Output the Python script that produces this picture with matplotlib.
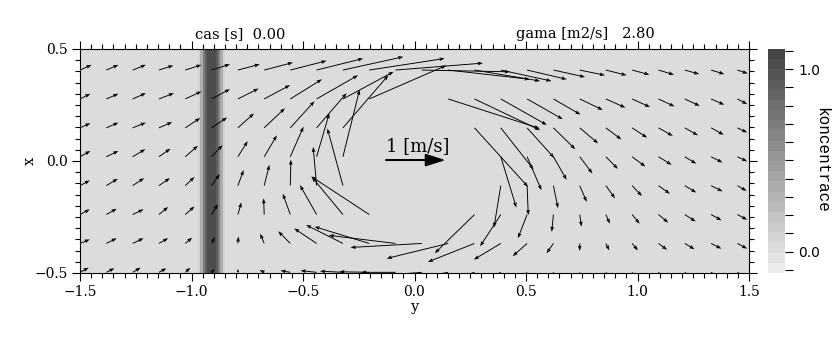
import numpy as np
import matplotlib
matplotlib.use('Agg')
import matplotlib.pyplot as plt
from matplotlib.colors import LinearSegmentedColormap
from matplotlib.ticker import MultipleLocator

nan = np.nan

# vector grid: "y" runs across, "x" runs up
y_grid = [-1.500, -1.382, -1.264, -1.146, -1.028, -0.910, -0.792, -0.674, -0.557,
          -0.439, -0.321, -0.203, -0.085, 0.033, 0.151, 0.269, 0.387, 0.505,
          0.623, 0.741, 0.858, 0.976, 1.094, 1.212, 1.330, 1.448]
x_grid = [0.406, 0.277, 0.148, 0.019, -0.110, -0.239, -0.368, -0.497]   # top row first

# velocity along y [m/s], one row per x_grid entry (nan = not drawn)
vel_y = [
    [.20, .21, .23, .25, .28, .32, .38, .50, .63, .81, 1.05, 1.31, 1.52, 1.53, 1.42, 1.14, .88, .69, .55, .44, .36, .30, .27, .25, .23, .18],
    [.18, .21, .23, .26, .28, .32, .36, .45, .55, .72, .88, 1.34, nan, nan, 1.59, 1.14, .80, .62, .47, .40, .34, .31, .28, .26, .23, .17],
    [.18, .21, .23, .23, .26, .27, .28, .36, .42, .52, .79, nan, nan, nan, nan, .93, .57, .47, .38, .32, .27, .26, .25, .23, .22, .17],
    [.18, .21, .22, .20, .22, .19, .17, .22, .23, .22, .29, nan, nan, nan, nan, nan, .27, .25, .23, .22, .21, .23, .23, .20, .20, .17],
    [.17, .20, .20, .19, .16, .14, .10, .09, .01, -.06, -.27, nan, nan, nan, nan, nan, -.12, .02, .08, .12, .16, .17, .20, .20, .20, .16],
    [.17, .18, .19, .16, .16, .11, .06, -.01, -.13, -.29, -.54, -1.01, nan, nan, nan, -.69, -.36, -.16, -.03, .03, .07, .13, .17, .19, .18, .17],
    [.17, .18, .19, .16, .12, .06, .01, -.07, -.21, -.39, -.64, -.95, -1.16, -1.24, -1.07, -.81, -.47, -.25, -.12, .00, .06, .10, .15, .17, .18, .17],
    [.15, .14, .14, .13, .09, .05, .00, -.08, -.17, -.28, -.40, -.52, -.60, -.62, -.55, -.40, -.25, -.12, -.05, .00, .05, .08, .11, .13, .14, .15],
]
# velocity along x [m/s]
vel_x = [
    [.09, .09, .09, .08, .09, .10, .10, .13, .16, .20, .23, .20, .12, -.03, -.16, -.19, -.19, -.16, -.12, -.09, -.09, -.08, -.08, -.07, -.07, -.06],
    [.09, .09, .10, .10, .13, .17, .18, .24, .34, .41, .47, .58, nan, nan, -.51, -.54, -.45, -.35, -.27, -.19, -.15, -.14, -.13, -.12, -.10, -.09],
    [.08, .09, .09, .10, .17, .18, .25, .34, .46, .60, .91, nan, nan, nan, nan, -1.02, -.72, -.52, -.37, -.27, -.20, -.17, -.14, -.13, -.12, -.08],
    [.10, .10, .13, .14, .19, .20, .27, .37, .52, .75, 1.16, nan, nan, nan, nan, nan, -.88, -.58, -.40, -.29, -.21, -.17, -.14, -.12, -.10, -.08],
    [.09, .12, .13, .13, .15, .20, .27, .36, .45, .67, .99, nan, nan, nan, nan, nan, -.73, -.51, -.39, -.28, -.22, -.18, -.14, -.12, -.10, -.09],
    [.09, .10, .09, .13, .14, .18, .21, .28, .36, .51, .65, .66, nan, nan, nan, -.67, -.55, -.41, -.30, -.21, -.16, -.16, -.14, -.12, -.10, -.09],
    [.07, .09, .09, .09, .10, .11, .12, .17, .21, .26, .32, .29, .14, -.07, -.26, -.32, -.28, -.22, -.17, -.13, -.12, -.12, -.11, -.10, -.09, -.09],
    [.08, .07, .08, .07, .08, .06, .06, .04, .03, .03, .02, .01, .00, -.05, -.10, -.12, -.12, -.12, -.12, -.11, -.10, -.10, -.09, -.09, -.08, -.08],
]

# concentration strip across y (zero elsewhere)
band_edges = [-0.97, -0.96, -0.95, -0.94, -0.93, -0.92, -0.91, -0.90, -0.89, -0.88, -0.87, -0.86, -0.85]
band_conc = [0.10, 0.35, 0.70, 0.92, 1.0, 1.0, 1.0, 1.0, 0.92, 0.70, 0.35, 0.10]

time_s = 0.00
gama = 2.80
ref_speed = 1.0
arrow_per_ms = 0.258   # data units drawn for 1 m/s

fig = plt.figure(figsize=(8.4, 3.5), dpi=100)
ax = fig.add_axes([80/840, 77/350, 669/840, 224/350])
cax = fig.add_axes([768/840, 77/350, 17/840, 224/350])

cmap = LinearSegmentedColormap.from_list('konc', ['#ececec', '#454545'], N=22)
edges = [-1.5] + band_edges + [1.5]
conc = np.array([[0.0] + band_conc + [0.0]])
mesh = ax.pcolormesh(edges, [-0.5, 0.5], conc, cmap=cmap, vmin=-0.117, vmax=1.11, shading='flat')

Y, X = np.meshgrid(y_grid, x_grid)
U = np.ma.masked_invalid(np.array(vel_y))
V = np.ma.masked_invalid(np.array(vel_x))
ax.quiver(Y, X, U, V, angles='xy', scale_units='xy', scale=1/arrow_per_ms,
          width=0.0014, headwidth=4, headlength=5.5, headaxislength=5,
          color='k', zorder=3)

# reference arrow
ax.arrow(-0.129, 0.004, ref_speed*arrow_per_ms, 0, width=0.002, head_width=0.05,
         head_length=0.08, length_includes_head=True, color='k', zorder=4)
ax.text(0.016, 0.045, '1 [m/s]', ha='center', va='baseline', fontsize=13,
        family='DejaVu Serif')

ax.set_xlim(-1.5, 1.5)
ax.set_ylim(-0.5, 0.5)
ax.xaxis.set_major_locator(MultipleLocator(0.5))
ax.xaxis.set_minor_locator(MultipleLocator(0.05))
ax.yaxis.set_major_locator(MultipleLocator(0.5))
ax.yaxis.set_minor_locator(MultipleLocator(0.05))
ax.xaxis.set_major_formatter(lambda v, p: f'{v:.1f}'.replace('-', '\u2212'))
ax.yaxis.set_major_formatter(lambda v, p: f'{v:.1f}'.replace('-', '\u2212'))
ax.tick_params(which='both', direction='out', top=True, right=True, width=0.8)
ax.tick_params(which='major', length=6, pad=3)
ax.tick_params(which='minor', length=3.5)
for lbl in ax.get_xticklabels() + ax.get_yticklabels():
    lbl.set_family('DejaVu Serif')
    lbl.set_fontsize(10)
ax.set_xlabel('y', family='DejaVu Serif', fontsize=10.5, labelpad=0)
ax.set_ylabel('x', family='DejaVu Serif', fontsize=10.5, labelpad=-2)

tr = ax.get_xaxis_transform()
ax.text(-0.783, 1.05, f'cas [s]  {time_s:.2f}', transform=tr, ha='center', va='baseline',
        fontsize=10.5, family='DejaVu Serif')
ax.text(0.765, 1.05, f'gama [m2/s]   {gama:.2f}', transform=tr, ha='center', va='baseline',
        fontsize=10.5, family='DejaVu Serif')

cb = fig.colorbar(mesh, cax=cax, ticks=[0.0, 1.0])
cb.outline.set_linewidth(0)
cax.yaxis.set_minor_locator(MultipleLocator(0.1))
cax.yaxis.set_major_formatter(lambda v, p: f'{v:.1f}')
cax.tick_params(which='both', direction='out', right=True, width=0.8)
cax.tick_params(which='major', length=6, labelsize=10)
cax.tick_params(which='minor', length=6)
fig.text(822/840, 1 - 160/350, 'koncentrace', rotation=270, ha='center', va='center',
         fontsize=11.5, family='Liberation Mono')

fig.savefig('out.png', dpi=100)
